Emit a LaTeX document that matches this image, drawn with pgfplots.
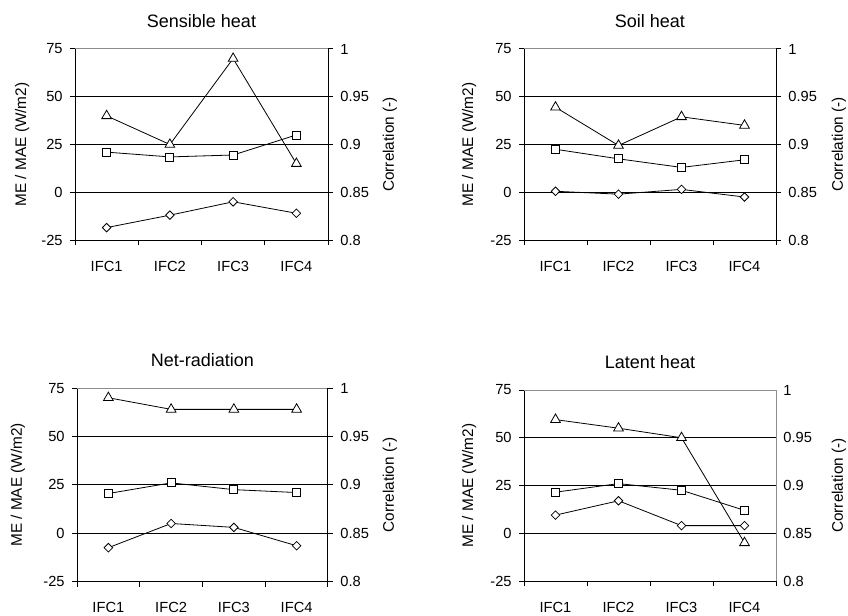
\documentclass[border=0pt]{standalone}
\usepackage{fontspec}
\setmainfont{Liberation Sans}
\usepackage{pgfplots}
\pgfplotsset{compat=1.18}
\definecolor{framegray}{RGB}{140,140,140}

\pgfplotsset{
  every axis title shift=0pt,
  common/.style={
    scale only axis,
    xmin=-0.5, xmax=3.5,
    /pgf/number format/assume math mode=true,
    tick label style={font=\fontsize{11}{13}\selectfont},
    label style={font=\fontsize{11.5}{13}\selectfont},
    tick align=outside,
    major tick length=3.75pt,
    minor tick length=3.75pt,
    tick style={black, line width=0.75pt},
  },
  leftax/.style={
    common,
    ymin=-25, ymax=75,
    axis x line*=bottom, axis y line*=left,
    axis line style={black, line width=0.75pt, -},
    xtick={0,1,2,3}, xticklabels={IFC1,IFC2,IFC3,IFC4},
    minor xtick={-0.5,0.5,1.5,2.5,3.5},
    major x tick style={draw=none},
    xticklabel style={anchor=center, yshift=-16pt},
    ytick={-25,0,25,50,75},
    yticklabels={-25,0,25,50,75},
    yticklabel style={anchor=east, xshift=-2pt},
    extra y ticks={0,25,50},
    extra y tick labels={},
    extra y tick style={grid=major, major grid style={black, line width=0.75pt}, major tick length=0pt},
    ylabel={ME / MAE (W/m2)},
    title style={font=\fontsize{13.5}{15}\selectfont, anchor=center},
  },
  rightax/.style={
    common,
    ymin=0.8, ymax=1,
    axis x line=none, axis y line*=right,
    axis line style={black, line width=0.75pt, -},
    ytick={0.8,0.85,0.9,0.95,1},
    yticklabels={0.8,0.85,0.9,0.95,1},
    yticklabel style={anchor=west, xshift=2pt},
    ylabel={Correlation (-)},
  },
  sq/.style={black, line width=0.6pt, mark=square*, mark size=3pt, mark options={fill=white, solid}},
  dm/.style={black, line width=0.6pt, mark=diamond*, mark size=3.2pt, mark options={fill=white, solid, xscale=1.33}},
  tr/.style={black, line width=0.6pt, mark=triangle*, mark size=4.2pt, mark options={fill=white, solid}},
}

\begin{document}
\begin{tikzpicture}
% ---------- Sensible heat ----------
\begin{axis}[leftax, at={(56.25pt,281.25pt)}, anchor=south west,
  width=189.75pt, height=143.25pt,
  title={Sensible heat}, title style={at={(axis description cs:0.5,1.147)}},
  ylabel style={at={(axis description cs:-0.209,0.5)}, anchor=center}]
\addplot[sq] coordinates {(0,21) (1,18.5) (2,19.5) (3,30)};
\addplot[dm] coordinates {(0,-18.5) (1,-12) (2,-5) (3,-11)};
\draw[framegray, line width=0.75pt] (rel axis cs:0,1) -- (rel axis cs:1,1);
\end{axis}
\begin{axis}[rightax, at={(56.25pt,281.25pt)}, anchor=south west,
  width=189.75pt, height=143.25pt,
  ylabel style={at={(axis description cs:1.245,0.5)}, anchor=center}]
\addplot[tr] coordinates {(0,0.93) (1,0.90) (2,0.99) (3,0.88)};
\end{axis}

% ---------- Soil heat ----------
\begin{axis}[leftax, at={(393pt,281.25pt)}, anchor=south west,
  width=189pt, height=143.25pt,
  title={Soil heat}, title style={at={(axis description cs:0.5,1.147)}},
  ylabel style={at={(axis description cs:-0.218,0.5)}, anchor=center}]
\addplot[sq] coordinates {(0,22.5) (1,17.5) (2,13) (3,17)};
\addplot[dm] coordinates {(0,0.5) (1,-1) (2,1.5) (3,-2.5)};
\draw[framegray, line width=0.75pt] (rel axis cs:0,1) -- (rel axis cs:1,1);
\end{axis}
\begin{axis}[rightax, at={(393pt,281.25pt)}, anchor=south west,
  width=189pt, height=143.25pt,
  ylabel style={at={(axis description cs:1.25,0.5)}, anchor=center}]
\addplot[tr] coordinates {(0,0.939) (1,0.899) (2,0.929) (3,0.92)};
\end{axis}

% ---------- Net-radiation ----------
\begin{axis}[leftax, at={(57.75pt,25.1pt)}, anchor=south west,
  width=188.25pt, height=145.1pt,
  title={Net-radiation}, title style={at={(axis description cs:0.5,1.145)}},
  ylabel style={at={(axis description cs:-0.235,0.5)}, anchor=center}]
\addplot[sq] coordinates {(0,20.5) (1,26) (2,22.5) (3,21)};
\addplot[dm] coordinates {(0,-7.5) (1,5) (2,3) (3,-6.5)};
\draw[framegray, line width=0.75pt] (rel axis cs:0,1) -- (rel axis cs:1,1);
\end{axis}
\begin{axis}[rightax, at={(57.75pt,25.1pt)}, anchor=south west,
  width=188.25pt, height=145.1pt,
  ylabel style={at={(axis description cs:1.247,0.5)}, anchor=center}]
\addplot[tr] coordinates {(0,0.99) (1,0.978) (2,0.978) (3,0.978)};
\end{axis}

% ---------- Latent heat ----------
\begin{axis}[leftax, at={(393pt,25.5pt)}, anchor=south west,
  width=189pt, height=143.25pt,
  title={Latent heat}, title style={at={(axis description cs:0.5,1.147)}},
  ylabel style={at={(axis description cs:-0.218,0.5)}, anchor=center}]
\addplot[sq] coordinates {(0,21.5) (1,26) (2,22.5) (3,12)};
\addplot[dm] coordinates {(0,9.5) (1,17) (2,4) (3,4)};
\draw[framegray, line width=0.75pt] (rel axis cs:0,1) -- (rel axis cs:1,1);
\end{axis}
\begin{axis}[rightax, at={(393pt,25.5pt)}, anchor=south west,
  width=189pt, height=143.25pt,
  axis line style={framegray, line width=0.75pt, -},
  major tick length=0pt,
  ylabel style={at={(axis description cs:1.25,0.5)}, anchor=center}]
\addplot[tr] coordinates {(0,0.969) (1,0.96) (2,0.95) (3,0.84)};
\end{axis}

\pgfresetboundingbox
\useasboundingbox (0,0) rectangle (636pt,461.25pt);
\end{tikzpicture}
\end{document}
